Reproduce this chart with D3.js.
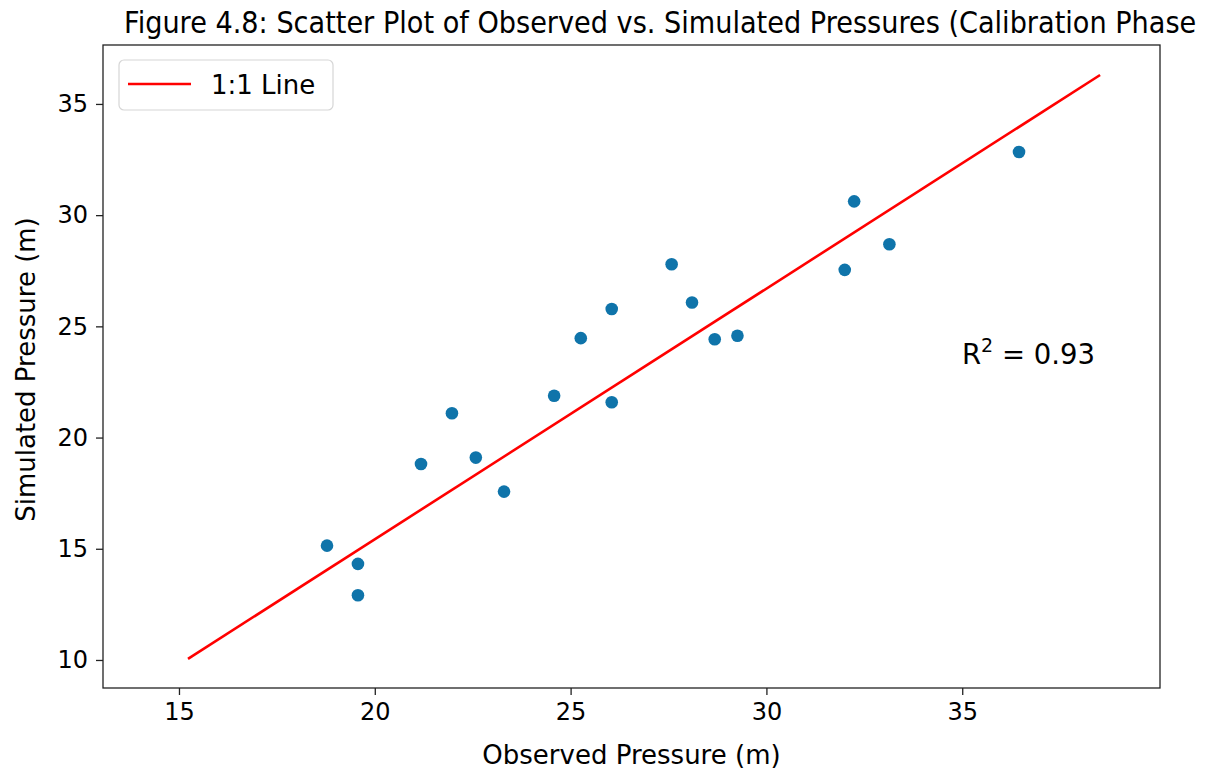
<!DOCTYPE html>
<html lang="en">
<head>
    <meta charset="UTF-8">
    <title>Observed vs Simulated Pressures</title>
    <script src="https://d3js.org/d3.v7.min.js"></script>
    <style>
        body { margin: 0; background: #fff; overflow: hidden; }
        text { font-family: "DejaVu Sans", sans-serif; fill: #000; }
    </style>
</head>
<body>
<script>
    // observed / simulated pressure pairs (m)
    const observed = [18.78, 19.57, 19.57, 21.18, 21.97, 22.58, 23.30, 24.58, 25.26, 26.05,
                      26.05, 27.58, 28.10, 28.68, 29.26, 32.00, 32.24, 33.14, 36.45];
    const simulated = [15.14, 14.32, 12.91, 18.81, 21.09, 19.10, 17.57, 21.88, 24.47, 25.78,
                       21.59, 27.79, 26.07, 24.42, 24.58, 27.54, 30.62, 28.69, 32.84];

    // end points of the drawn reference line
    const lineX = [15.23, 38.52];
    const lineY = [10.05, 36.30];

    const xTicks = [15, 20, 25, 30, 35];
    const yTicks = [10, 15, 20, 25, 30, 35];

    // title as it is visible in the figure (its closing bracket falls off the edge)
    const titleText = "Figure 4.8: Scatter Plot of Observed vs. Simulated Pressures (Calibration Phase";
    const rSquared = "0.93";

    const width = 1206;
    const height = 771;
    const margin = { top: 45, right: 46, bottom: 83, left: 103 };

    const svg = d3.select("body").append("svg")
        .attr("width", width)
        .attr("height", height);

    const x = d3.scaleLinear()
        .domain([13.06, 40.05])
        .range([margin.left, width - margin.right]);

    const y = d3.scaleLinear()
        .domain([8.74, 37.65])
        .range([height - margin.bottom, margin.top]);

    // title, horizontally squeezed like the original
    const title = svg.append("text")
        .attr("x", 0)
        .attr("y", 0)
        .attr("font-size", 29)
        .text(titleText);
    const titleLen = title.node().getComputedTextLength();
    const sx = (1197 - 124) / titleLen;
    title.attr("transform", `translate(124,33) scale(${sx},1.05)`);

    // axes
    const xAxis = svg.append("g")
        .attr("transform", `translate(0,${height - margin.bottom})`)
        .call(d3.axisBottom(x).tickValues(xTicks).tickSize(7).tickPadding(8));

    const yAxis = svg.append("g")
        .attr("transform", `translate(${margin.left},0)`)
        .call(d3.axisLeft(y).tickValues(yTicks).tickSize(7).tickPadding(8));

    [xAxis, yAxis].forEach(g => {
        g.select(".domain").remove();
        g.selectAll("line").attr("stroke", "#222").attr("stroke-width", 1.3);
        g.selectAll("text")
            .attr("font-size", 24)
            .attr("font-family", "DejaVu Sans, sans-serif")
            .attr("fill", "#000");
    });

    // frame
    svg.append("rect")
        .attr("x", margin.left)
        .attr("y", margin.top)
        .attr("width", width - margin.left - margin.right)
        .attr("height", height - margin.top - margin.bottom)
        .attr("fill", "none")
        .attr("stroke", "#222")
        .attr("stroke-width", 1.3);

    // axis labels
    svg.append("text")
        .attr("x", (margin.left + width - margin.right) / 2)
        .attr("y", 764)
        .attr("text-anchor", "middle")
        .attr("font-size", 26)
        .text("Observed Pressure (m)");

    svg.append("text")
        .attr("transform", `translate(35,${(margin.top + height - margin.bottom) / 2 + 3}) rotate(-90)`)
        .attr("text-anchor", "middle")
        .attr("font-size", 26)
        .text("Simulated Pressure (m)");

    // 1:1 line
    const line = d3.line()
        .x(d => x(d[0]))
        .y(d => y(d[1]));

    svg.append("path")
        .datum(d3.zip(lineX, lineY))
        .attr("fill", "none")
        .attr("stroke", "#ff0000")
        .attr("stroke-width", 2.6)
        .attr("d", line);

    // scatter points
    svg.append("g")
        .selectAll("circle")
        .data(d3.zip(observed, simulated))
        .join("circle")
        .attr("cx", d => x(d[0]))
        .attr("cy", d => y(d[1]))
        .attr("r", 6.3)
        .attr("fill", "#0f74aa");

    // R² annotation
    const r2 = svg.append("text")
        .attr("x", 962)
        .attr("y", 364)
        .attr("font-size", 27.5);
    r2.append("tspan").text("R");
    r2.append("tspan").attr("font-size", 19).attr("dy", -12).text("2");
    r2.append("tspan").attr("dy", 12).text(" = " + rSquared);

    // legend
    const legend = svg.append("g");
    legend.append("rect")
        .attr("x", 119)
        .attr("y", 60)
        .attr("width", 214)
        .attr("height", 50)
        .attr("rx", 5)
        .attr("fill", "#fff")
        .attr("stroke", "#d6d6d6")
        .attr("stroke-width", 1.2);
    legend.append("line")
        .attr("x1", 128).attr("x2", 191)
        .attr("y1", 84).attr("y2", 84)
        .attr("stroke", "#ff0000")
        .attr("stroke-width", 2.6);
    legend.append("text")
        .attr("x", 211)
        .attr("y", 94)
        .attr("font-size", 26)
        .text("1:1 Line");
</script>
</body>
</html>
